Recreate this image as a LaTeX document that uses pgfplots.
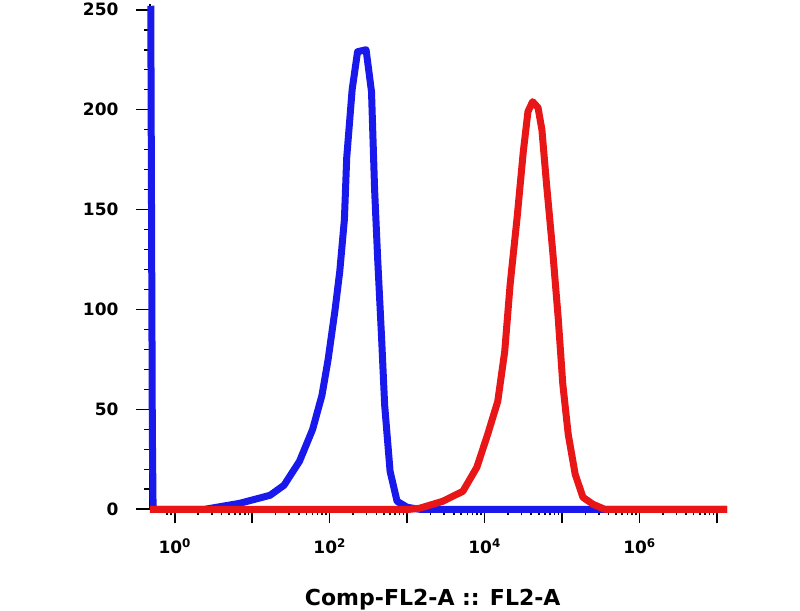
\documentclass[border=0pt]{standalone}
\usepackage{pgfplots}
\pgfplotsset{compat=1.18}
\usepackage{fontspec}
\setmainfont{DejaVu Sans}
\definecolor{fblue}{RGB}{25,25,235}
\definecolor{fred}{RGB}{232,22,22}
\begin{document}
\begin{tikzpicture}
\begin{axis}[
  scale only axis,
  width=577pt, height=505pt,
  xmin=-0.32, xmax=7.13,
  ymin=0, ymax=252.75,
  axis lines*=left,
  axis line style={black, line width=1.6pt},
  clip=false,
  tick align=outside,
  major tick length=14pt,
  minor tick length=6pt,
  ytick={0,50,...,250},
  minor y tick num=4,
  xtick={0,1,...,7},
  xticklabels={{10\textsuperscript{0}},{},{10\textsuperscript{2}},{},{10\textsuperscript{4}},{},{10\textsuperscript{6}},{}},
  minor xtick={-0.097,-0.046,
    0.301,0.477,0.602,0.699,0.778,0.845,0.903,0.954,
    1.301,1.477,1.602,1.699,1.778,1.845,1.903,1.954,
    2.301,2.477,2.602,2.699,2.778,2.845,2.903,2.954,
    3.301,3.477,3.602,3.699,3.778,3.845,3.903,3.954,
    4.301,4.477,4.602,4.699,4.778,4.845,4.903,4.954,
    5.301,5.477,5.602,5.699,5.778,5.845,5.903,5.954,
    6.301,6.477,6.602,6.699,6.778,6.845,6.903,6.954},
  every tick/.style={black, line width=1.6pt},
  /pgf/number format/assume math mode=true,
  ticklabel style={font=\fontsize{17}{17}\selectfont\bfseries},
  yticklabel style={anchor=east, xshift=-14pt},
  xticklabel style={anchor=north, yshift=-12pt},
  xlabel={Comp-FL2-A :: FL2-A},
  xlabel style={font=\fontsize{22}{22}\selectfont\bfseries, at={(axis description cs:0.49,0)}, anchor=north, inner sep=0pt, yshift=-80pt},
]
\addplot[fblue, line width=7pt, line join=round] coordinates {
(-0.31,252) (-0.29,40) (-0.28,0) (0.39,0) (0.84,3) (1.23,7) (1.41,12) (1.61,24)
(1.78,40) (1.90,57) (1.98,75) (2.07,100) (2.13,119) (2.19,145) (2.22,176)
(2.29,210) (2.36,229) (2.47,230) (2.54,209) (2.58,160) (2.62,125) (2.67,86)
(2.71,52) (2.78,19) (2.87,4) (3.00,1) (3.16,0) (7.13,0)
};
\addplot[fred, line width=7pt, line join=round] coordinates {
(-0.32,0) (3.04,0) (3.16,0.5) (3.46,4) (3.72,9) (3.90,21) (4.04,37.5) (4.17,54)
(4.26,79) (4.33,112.6) (4.42,146) (4.50,179) (4.56,199) (4.62,204) (4.69,201)
(4.74,190) (4.80,162.7) (4.88,129) (4.95,96) (5.01,62.6) (5.08,37.5) (5.17,17.5)
(5.27,6) (5.40,2.5) (5.55,0) (7.13,0)
};
\end{axis}
\path[use as bounding box] (-150pt,-95pt) rectangle (650pt,505pt);
\end{tikzpicture}
\end{document}
